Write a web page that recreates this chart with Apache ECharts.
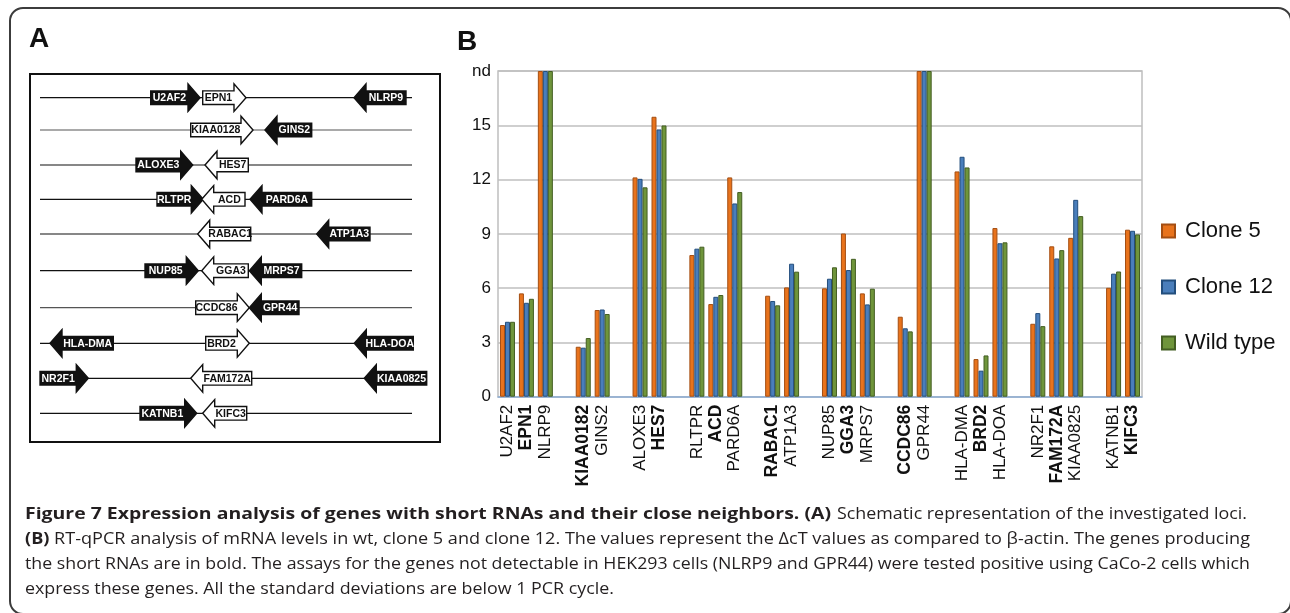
<!DOCTYPE html>
<html>
<head>
<meta charset="utf-8">
<script src="https://cdn.jsdelivr.net/npm/echarts@6/dist/echarts.min.js"></script>
<style>
  html, body { margin:0; padding:0; width:1290px; height:613px; overflow:hidden; background:#fff; }
  #frame { position:absolute; left:9px; top:7px; width:1279px; height:604px; border:2px solid #3c3c3c; border-radius:14px; }
  #chart { position:absolute; left:0; top:0; width:1290px; height:613px; }
  #caption { position:absolute; left:25px; top:503px; width:1240px; font-family:"Open Sans","Liberation Sans",sans-serif; font-size:16.5px; color:#231f20; }
  #caption .ln { position:relative; white-space:nowrap; height:25px; line-height:19px; }
  #caption .fit { position:absolute; top:0; white-space:nowrap; transform-origin:0 0; display:inline-block; }
  #caption b { font-weight:700; }
</style>
</head>
<body>
<div id="frame"></div>
<div id="chart"></div>
<div id="caption">
  <div class="ln"><span class="fit" data-x="0" data-w="806"><b>Figure 7 Expression analysis of genes with short RNAs and their close neighbors. (A)</b></span><span class="fit" data-x="812" data-w="410">Schematic representation of the investigated loci.</span></div>
  <div class="ln"><span class="fit" data-x="0" data-w="1225"><b>(B)</b> RT-qPCR analysis of mRNA levels in wt, clone 5 and clone 12. The values represent the ΔcT values as compared to β-actin. The genes producing</span></div>
  <div class="ln"><span class="fit" data-x="0" data-w="1225">the short RNAs are in bold. The assays for the genes not detectable in HEK293 cells (NLRP9 and GPR44) were tested positive using CaCo-2 cells which</span></div>
  <div class="ln"><span class="fit" data-x="0" data-w="589">express these genes. All the standard deviations are below 1 PCR cycle.</span></div>
</div>
<script>
// ---------- Data (panel B) ----------
const ND = 18; // "nd" (not detected) plotted at the top of the axis
const categories = ['U2AF2','EPN1','NLRP9','','KIAA0182','GINS2','','ALOXE3','HES7','','RLTPR','ACD','PARD6A','','RABAC1','ATP1A3','','NUP85','GGA3','MRPS7','','CCDC86','GPR44','','HLA-DMA','BRD2','HLA-DOA','','NR2F1','FAM172A','KIAA0825','','KATNB1','KIFC3'];
const boldGenes = ['EPN1','KIAA0182','HES7','ACD','RABAC1','GGA3','CCDC86','BRD2','FAM172A','KIFC3'];
const clone5   = [3.96,5.71,ND,null,2.76,4.79,null,12.12,15.47,null,7.83,5.12,12.12,null,5.58,6.04,null,5.99,9.02,5.71,null,4.42,ND,null,12.45,2.08,9.32,null,4.03,8.31,8.78,null,6.02,9.23];
const clone12  = [4.14,5.19,ND,null,2.71,4.82,null,12.04,14.77,null,8.18,5.52,10.68,null,5.29,7.35,null,6.52,7.00,5.10,null,3.78,ND,null,13.26,1.44,8.48,null,4.62,7.64,10.88,null,6.80,9.17];
const wildType = [4.14,5.41,ND,null,3.24,4.57,null,11.57,14.99,null,8.29,5.62,11.31,null,5.05,6.91,null,7.15,7.62,5.97,null,3.61,ND,null,12.67,2.28,8.53,null,3.90,8.10,9.98,null,6.92,8.97];
const seriesNames = ['Clone 5','Clone 12','Wild type'];
const yTicks = [0,3,6,9,12,15,18];

// ---------- Panel A schematic (gene names; layout kept separately) ----------
const lociRows = [
  ['U2AF2','EPN1','NLRP9'],
  ['KIAA0128','GINS2'],
  ['ALOXE3','HES7'],
  ['RLTPR','ACD','PARD6A'],
  ['RABAC1','ATP1A3'],
  ['NUP85','GGA3','MRPS7'],
  ['CCDC86','GPR44'],
  ['HLA-DMA','BRD2','HLA-DOA'],
  ['NR2F1','FAM172A','KIAA0825'],
  ['KATNB1','KIFC3']
];
const shortRnaGenes = ['EPN1','KIAA0128','HES7','ACD','RABAC1','GGA3','CCDC86','BRD2','FAM172A','KIFC3'];
// layout: [tail x, tip x] for each arrow (px), row y positions
const arrowLayout = [
  [[150.7,200],[202.7,246],[406,354]],
  [[190.7,253],[311.7,265]],
  [[136,192.7],[248.3,205]],
  [[157,203.3],[245,201.7],[311.7,250]],
  [[250.7,197.7],[370,316.7]],
  [[145,198.3],[248.3,201.7],[301.7,249.3]],
  [[195.7,249.3],[299,249.3]],
  [[113.3,50],[205.7,249.3],[413.3,354.3]],
  [[40,88.3],[251.7,190.7],[426.7,364.3]],
  [[140,196.7],[246.7,202.7]]
];
const rowY = [97.7,130,165,199.3,234,270.7,307.7,343.3,378.3,413.3];
const FONT = '"Liberation Sans", Arial, Helvetica, sans-serif';

const graphics = [];
graphics.push({type:'text', style:{text:'A', x:29, y:53, fontSize:28, fontWeight:'bold', fontFamily:FONT, fill:'#111', verticalAlign:'bottom'}});
graphics.push({type:'text', style:{text:'B', x:457, y:56, fontSize:28, fontWeight:'bold', fontFamily:FONT, fill:'#111', verticalAlign:'bottom'}});
graphics.push({type:'rect', shape:{x:30, y:74, width:410, height:368}, style:{fill:'#fff', stroke:'#111', lineWidth:2}});
rowY.forEach((y, i) => {
  graphics.push({type:'line', shape:{x1:40, y1:y, x2:412, y2:y}, style:{stroke:(i===1||i===6)?'#555':'#111', lineWidth:1.2}});
});
lociRows.forEach((row, i) => {
  const y = rowY[i];
  row.forEach((name, j) => {
    const [tail, tip] = arrowLayout[i][j];
    const dir = tip > tail ? 1 : -1;
    const base = tip - dir * 12;
    const bh = 6.8, hh = 13.8;
    const white = shortRnaGenes.includes(name);
    graphics.push({type:'polygon', shape:{points:[[tail,y-bh],[base,y-bh],[base,y-hh],[tip,y],[base,y+hh],[base,y+bh],[tail,y+bh]]},
      style:{fill: white ? '#fff' : '#111', stroke:'#111', lineWidth:1.4}});
    graphics.push({type:'text', style:{text:name, x:(tail+base)/2, y:y+0.5, align:'center', verticalAlign:'middle',
      fontSize:10.5, fontWeight:'bold', fontFamily:FONT, fill: white ? '#111' : '#fff'}});
  });
});

const colors = [
  {fill:'#E8731C', border:'#A44E12'},
  {fill:'#4A7EBB', border:'#234E7D'},
  {fill:'#6F953B', border:'#435E22'}
];
const seriesData = [clone5, clone12, wildType];

const chart = echarts.init(document.getElementById('chart'), null, {renderer:'canvas'});
chart.setOption({
  animation:false,
  graphic: graphics,
  grid:{left:498, top:71, width:644, height:325.7, show:true, borderColor:'#BFBFBF', borderWidth:1.5, containLabel:false},
  legend:{orient:'vertical', left:1156, top:215, itemWidth:13, itemHeight:13, itemGap:34, icon:'rect',
    data:seriesNames,
    textStyle:{fontSize:22, lineHeight:22, color:'#111', fontFamily:FONT, padding:[0,0,0,5]}},
  xAxis:{type:'category', data:categories,
    axisLine:{show:true, lineStyle:{color:'#8FB0D8', width:1.5}},
    axisTick:{show:false},
    axisLabel:{interval:0, rotate:90, margin:8, color:'#111',
      formatter:(v)=> v==='' ? '' : (boldGenes.includes(v) ? '{b|'+v+'}' : '{n|'+v+'}'),
      rich:{b:{fontWeight:'bold', fontSize:17.5, fontFamily:FONT, color:'#111'},
            n:{fontSize:17, fontFamily:FONT, color:'#111'}}}
  },
  yAxis:{type:'value', min:yTicks[0], max:yTicks[yTicks.length-1], interval:3,
    axisLine:{show:false}, axisTick:{show:false},
    splitLine:{lineStyle:{color:'#BFBFBF', width:1.5}},
    axisLabel:{margin:7, fontSize:17, color:'#111', fontFamily:FONT,
      formatter:(v)=> v===ND ? 'nd' : String(v)}
  },
  series: seriesNames.map((n,k)=>({
    name:n, type:'bar', data:seriesData[k], barWidth:5, barGap:'0%',
    itemStyle:{color:colors[k].fill, borderColor:colors[k].border, borderWidth:1}
  }))
});

// caption: fit each text run to its extent in the reference (justified block)
document.querySelectorAll('#caption .fit').forEach(s => {
  const w = s.getBoundingClientRect().width;
  s.style.left = s.dataset.x + 'px';
  s.style.transform = 'scaleX(' + ((+s.dataset.w) / w) + ')';
});
</script>
</body>
</html>
